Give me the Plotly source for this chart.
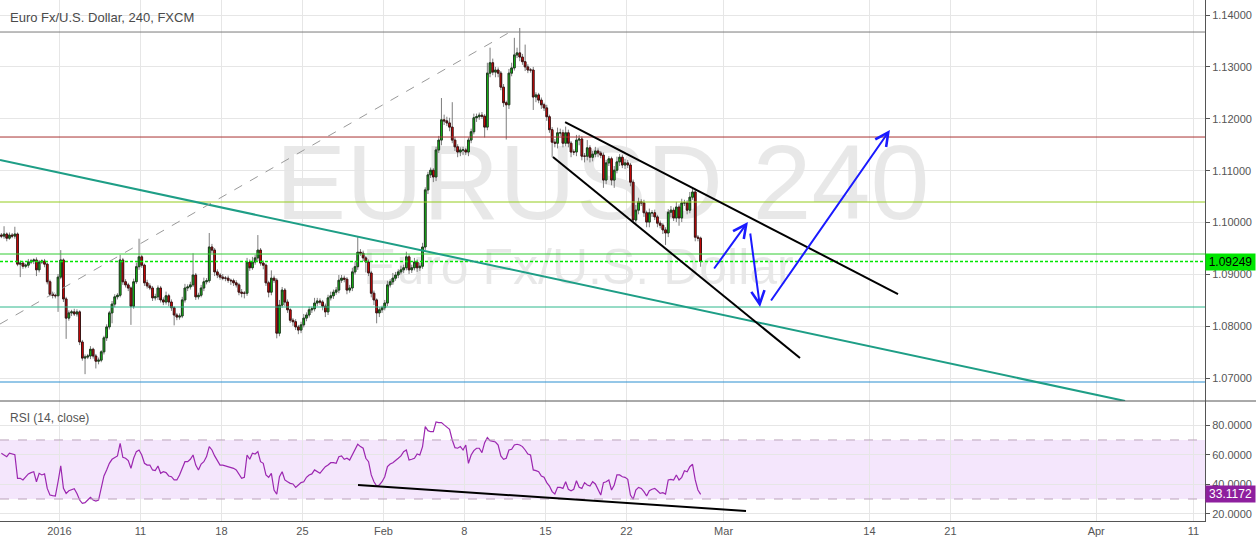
import plotly.graph_objects as go

# ---------------- data ----------------
closes = [
    1.0974, 1.0978, 1.0970, 1.0976, 1.0974, 1.0978, 1.0920, 1.0922, 1.0916, 1.0918,
    1.0924, 1.0926, 1.0928, 1.0909, 1.0924, 1.0926, 1.0920, 1.0886, 1.0862, 1.0860,
    1.0859, 1.0895, 1.0928, 1.0853, 1.0816, 1.0826, 1.0828, 1.0824, 1.0828, 1.0770,
    1.0739, 1.0741, 1.0743, 1.0756, 1.0743, 1.0733, 1.0735, 1.0751, 1.0778, 1.0799,
    1.0826, 1.0843, 1.0857, 1.0860, 1.0928, 1.0886, 1.0880, 1.0874, 1.0839, 1.0886,
    1.0915, 1.0934, 1.0918, 1.0884, 1.0878, 1.0874, 1.0855, 1.0857, 1.0874, 1.0851,
    1.0847, 1.0859, 1.0847, 1.0836, 1.0822, 1.0818, 1.0820, 1.0851, 1.0874, 1.0876,
    1.0880, 1.0899, 1.0857, 1.0860, 1.0874, 1.0886, 1.0888, 1.0953, 1.0947, 1.0905,
    1.0899, 1.0895, 1.0893, 1.0893, 1.0889, 1.0888, 1.0884, 1.0880, 1.0866, 1.0864,
    1.0864, 1.0924, 1.0913, 1.0924, 1.0932, 1.0947, 1.0922, 1.0918, 1.0884, 1.0866,
    1.0893, 1.0889, 1.0787, 1.0841, 1.0870, 1.0847, 1.0832, 1.0812, 1.0809, 1.0799,
    1.0793, 1.0803, 1.0816, 1.0822, 1.0832, 1.0834, 1.0845, 1.0849, 1.0847, 1.0839,
    1.0828, 1.0855, 1.0859, 1.0866, 1.0870, 1.0889, 1.0893, 1.0891, 1.0870, 1.0874,
    1.0905, 1.0915, 1.0943, 1.0941, 1.0932, 1.0924, 1.0903, 1.0864, 1.0851, 1.0826,
    1.0832, 1.0836, 1.0845, 1.0880, 1.0886, 1.0893, 1.0899, 1.0905, 1.0909, 1.0913,
    1.0934, 1.0909, 1.0913, 1.0924, 1.0913, 1.0916, 1.0953, 1.1063, 1.1092, 1.1101,
    1.1088, 1.1140, 1.1159, 1.1198, 1.1196, 1.1192, 1.1184, 1.1159, 1.1146, 1.1136,
    1.1140, 1.1140, 1.1136, 1.1159, 1.1175, 1.1202, 1.1204, 1.1207, 1.1205, 1.1184,
    1.1288, 1.1308, 1.1290, 1.1294, 1.1288, 1.1261, 1.1231, 1.1227, 1.1288, 1.1298,
    1.1323, 1.1327, 1.1319, 1.1310, 1.1300, 1.1294, 1.1294, 1.1242, 1.1246, 1.1236,
    1.1227, 1.1221, 1.1204, 1.1179, 1.1155, 1.1153, 1.1173, 1.1173, 1.1153, 1.1173,
    1.1153, 1.1136, 1.1136, 1.1159, 1.1161, 1.1128, 1.1128, 1.1144, 1.1126, 1.1132,
    1.1138, 1.1134, 1.1130, 1.1082, 1.1115, 1.1123, 1.1082, 1.1101, 1.1117, 1.1126,
    1.1111, 1.1115, 1.1111, 1.1078, 1.1005, 1.1024, 1.1040, 1.1038, 1.1019, 1.1001,
    1.1019, 1.1019, 1.1011, 1.0999, 1.0995, 1.0986, 1.0980, 1.1020, 1.1024, 1.1009,
    1.1030, 1.1009, 1.1038, 1.1038, 1.1024, 1.1049, 1.1059, 1.0972, 1.0970, 1.09249,
]
first_open = 1.0976

# wick lengths above / below the candle body, in pips
upper_wick_pips = [
    4, 15, 3, 5, 4, 14, 3, 5, 4, 3,
    6, 4, 3, 5, 4, 3, 4, 3, 4, 5,
    3, 6, 19, 3, 4, 5, 4, 6, 5, 3,
    4, 5, 4, 6, 3, 4, 5, 3, 4, 5,
    4, 6, 5, 4, 10, 4, 5, 4, 3, 6,
    8, 35, 4, 3, 6, 5, 4, 6, 5, 4,
    5, 8, 4, 5, 3, 4, 5, 6, 8, 5,
    6, 42, 4, 5, 6, 8, 5, 27, 6, 4,
    5, 4, 6, 4, 5, 3, 4, 5, 4, 6,
    4, 8, 5, 10, 6, 29, 4, 5, 3, 4,
    15, 5, 4, 10, 6, 4, 5, 3, 4, 5,
    4, 6, 8, 5, 6, 4, 10, 6, 5, 4,
    5, 6, 8, 5, 6, 10, 6, 5, 4, 6,
    8, 10, 29, 6, 5, 4, 5, 4, 5, 3,
    5, 4, 6, 8, 5, 10, 6, 5, 8, 6,
    10, 5, 6, 8, 5, 6, 8, 5, 6, 5,
    4, 6, 8, 42, 10, 8, 10, 48, 6, 5,
    5, 6, 4, 5, 6, 8, 6, 5, 6, 4,
    20, 29, 8, 6, 5, 4, 6, 4, 8, 10,
    33, 10, 48, 6, 33, 5, 4, 6, 5, 4,
    5, 4, 6, 4, 5, 6, 10, 8, 6, 12,
    6, 4, 5, 10, 8, 5, 6, 15, 5, 6,
    8, 5, 4, 5, 6, 5, 4, 8, 10, 6,
    5, 8, 6, 4, 5, 10, 8, 5, 6, 4,
    8, 5, 6, 4, 5, 4, 5, 6, 8, 5,
    10, 5, 8, 6, 5, 10, 8, 5, 4, 3,
]
lower_wick_pips = [
    4, 5, 6, 3, 4, 5, 4, 25, 5, 4,
    5, 4, 6, 12, 5, 4, 6, 5, 4, 6,
    5, 31, 4, 6, 40, 5, 6, 4, 5, 6,
    5, 31, 4, 6, 5, 14, 6, 4, 5, 6,
    5, 20, 6, 5, 4, 6, 5, 6, 36, 5,
    4, 6, 5, 6, 5, 4, 6, 5, 6, 5,
    6, 5, 8, 6, 20, 6, 5, 4, 5, 6,
    5, 4, 6, 5, 4, 6, 5, 4, 6, 8,
    6, 5, 4, 6, 5, 8, 6, 5, 6, 8,
    10, 5, 6, 4, 5, 6, 5, 8, 6, 10,
    6, 5, 10, 6, 5, 8, 6, 5, 8, 6,
    8, 6, 5, 6, 5, 6, 5, 6, 5, 8,
    10, 6, 5, 6, 5, 6, 5, 6, 8, 5,
    6, 5, 6, 5, 6, 20, 6, 8, 10, 20,
    8, 6, 5, 6, 5, 6, 5, 6, 5, 6,
    5, 8, 6, 5, 8, 6, 5, 6, 8, 6,
    10, 8, 6, 10, 8, 6, 8, 6, 8, 10,
    8, 10, 6, 8, 6, 5, 8, 6, 5, 20,
    6, 8, 6, 10, 8, 6, 8, 67, 8, 6,
    5, 6, 8, 6, 8, 6, 5, 25, 10, 6,
    8, 6, 8, 6, 29, 8, 10, 6, 8, 6,
    8, 10, 6, 8, 10, 8, 12, 8, 10, 8,
    6, 8, 6, 15, 8, 6, 10, 15, 6, 8,
    6, 8, 6, 8, 6, 10, 8, 6, 8, 10,
    10, 8, 6, 8, 6, 8, 23, 8, 10, 6,
    8, 15, 8, 6, 8, 6, 5, 8, 6, 10,
]

rsi_values = [
    61, 59.8, 58.7, 61, 60.3, 60, 44, 44, 42.9, 45,
    47, 47.9, 48.5, 41.7, 47.4, 46.3, 47, 37.2, 32.7, 32.3,
    32, 41.7, 52.4, 37.2, 33.8, 35.6, 36.1, 37, 33.8, 29.3,
    27, 27.5, 29.3, 31.1, 29.3, 28.6, 29.3, 37.2, 45.6, 49.7,
    54.2, 56.9, 58.2, 59.2, 67.7, 58.2, 57.6, 56, 50.8, 57.6,
    62.1, 63.2, 59.8, 54.2, 53, 53, 49.7, 49.2, 52.4, 47.4,
    48.5, 47.9, 45.6, 45.1, 42.9, 42.9, 46.3, 50.8, 55.3, 55.3,
    56.9, 59.8, 53, 49.7, 53.7, 55.3, 58.7, 65.5, 63.2, 59.2,
    56, 53, 53, 52.4, 51.9, 51.5, 50.8, 49.7, 47, 44,
    44.7, 59.8, 56.9, 61, 60.5, 62.1, 55.3, 54.2, 46.3, 44.7,
    47.4, 36.1, 33.2, 45.1, 48.5, 42.9, 41.7, 40.6, 40.2, 37.9,
    39.5, 41.1, 41.7, 44.7, 46.3, 47, 49.7, 48.5, 47.4, 49.7,
    51.9, 53, 54.6, 54.6, 54.2, 58.7, 59.2, 56.9, 57.6, 56.4,
    59.8, 63.2, 67.1, 65.5, 64.4, 57.6, 55.3, 46.3, 41.7, 38.8,
    39.5, 41.7, 45.1, 51.9, 53.7, 54.6, 56.4, 57.6, 59.2, 62.1,
    63.2, 56.4, 56.9, 57.6, 60.5, 59.8, 65.5, 79, 76.3, 75.6,
    75.6, 82.2, 81.8, 81.8, 80.2, 78.6, 77.2, 70, 64.8, 64.4,
    65.5, 63.2, 66.6, 54.2, 59.8, 62.8, 64.4, 64.4, 61.4, 68.2,
    71.6, 69.5, 68.9, 68.6, 66.6, 59.2, 56.9, 57.6, 63.2, 63.7,
    66.6, 67.1, 66.6, 65.5, 63.2, 60.5, 59.8, 49.7, 49.2, 48.5,
    45.6, 44.7, 41.1, 38.8, 35, 33.4, 37.9, 37.9, 37.2, 41.7,
    36.6, 35.6, 36.6, 42.4, 37.9, 37.2, 41.1, 39.5, 38.8, 41.7,
    40.2, 36.1, 32.7, 41.1, 41.7, 42.9, 36.1, 39.5, 46.3, 46.3,
    45.1, 44.7, 43.3, 32.7, 29.8, 36.1, 37.9, 37.2, 35, 32,
    35.6, 36.6, 37.2, 35.6, 33.8, 34.3, 33.4, 42.9, 43.3, 42.9,
    46.3, 42.9, 44.7, 49.2, 48.5, 51.9, 53.5, 42.9, 36.1, 33.1172,
]

tick_day_offsets = [0, 5, 10, 15, 20, 25, 30, 35, 41, 50, 55, 64, 70]
tick_labels = ["2016", "11", "18", "25", "Feb", "8", "15", "22", "Mar", "14", "21", "Apr", "11"]

level_prices = [1.13672, 1.11649, 1.10397, 1.09395, 1.08374, 1.06929]
level_colors = ["#7a7a7a", "#a83232", "#94cc1f", "#33cc33", "#2fb88c", "#2a8fd0"]
last_price = 1.09249
last_rsi = 33.1172
rsi_band = (30, 70)

# ---------------- derived ----------------
PIP = 0.0001
BARS_BEFORE_JAN4 = 22
BARS_PER_DAY = 6
n = len(closes)
xs = [i + 0.5 for i in range(n)]
opens = [first_open] + closes[:-1]
body_hi = [max(o, c) for o, c in zip(opens, closes)]
body_lo = [min(o, c) for o, c in zip(opens, closes)]
highs = [h + u * PIP for h, u in zip(body_hi, upper_wick_pips)]
lows = [l - d * PIP for l, d in zip(body_lo, lower_wick_pips)]
tickvals = [BARS_BEFORE_JAN4 + BARS_PER_DAY * d for d in tick_day_offsets]

# ---------------- geometry / style ----------------
W, H = 1256, 544
MR, MB = 51, 23
X_RANGE = [0, 446.3]
PRICE_RANGE = [1.06563, 1.14289]
RSI_RANGE = [15.1, 96.4]
SPLIT = 120 / 521
GRID = "#e6e6e6"
AXIS = "#555555"
FONT = "Liberation Sans"

fig = go.Figure()

# wicks (grey) underneath
fig.add_trace(go.Candlestick(
    x=xs, open=opens, high=highs, low=lows, close=closes,
    increasing=dict(line=dict(color="#7d7d7d", width=1), fillcolor="#7d7d7d"),
    decreasing=dict(line=dict(color="#7d7d7d", width=1), fillcolor="#7d7d7d"),
    whiskerwidth=0, showlegend=False, hoverinfo="skip",
))
# bodies
fig.add_trace(go.Candlestick(
    x=xs, open=opens, high=body_hi, low=body_lo, close=closes,
    increasing=dict(line=dict(color="#1f3a1f", width=1), fillcolor="#10e010"),
    decreasing=dict(line=dict(color="#3a1515", width=1), fillcolor="#ff0000"),
    whiskerwidth=0, showlegend=False, hoverinfo="skip",
))
# RSI
fig.add_trace(go.Scatter(
    x=xs, y=rsi_values, yaxis="y2", mode="lines",
    line=dict(color="#9c27b0", width=1.2), showlegend=False, hoverinfo="skip",
))

shapes = []
# watermark
shapes.append(dict(type="rect", xref="paper", yref="paper", x0=0.2, x1=0.8, y0=0.575, y1=0.765,
                   line=dict(width=0), fillcolor="rgba(0,0,0,0)", layer="between",
                   label=dict(text="EURUSD 240", textposition="middle center",
                              font=dict(family=FONT, size=106, color="rgba(0,0,0,0.09)"))))
shapes.append(dict(type="rect", xref="paper", yref="paper", x0=0.28, x1=0.68, y0=0.455, y1=0.54,
                   line=dict(width=0), fillcolor="rgba(0,0,0,0)", layer="between",
                   label=dict(text="Euro Fx/U.S. Dollar", textposition="middle center",
                              font=dict(family=FONT, size=50, color="rgba(0,0,0,0.09)"))))
# RSI band
shapes.append(dict(type="rect", xref="paper", yref="y2", x0=0, x1=1, y0=rsi_band[0], y1=rsi_band[1],
                   fillcolor="#f4e6fc", line=dict(width=0), layer="below"))
for lv in rsi_band:
    shapes.append(dict(type="line", xref="paper", yref="y2", x0=0, x1=1, y0=lv, y1=lv,
                       line=dict(color="#bba3bb", width=1, dash="dash")))
# horizontal levels
for p, c in zip(level_prices, level_colors):
    shapes.append(dict(type="line", xref="paper", yref="y", x0=0, x1=1, y0=p, y1=p,
                       line=dict(color=c, width=1)))
shapes.append(dict(type="line", xref="paper", yref="y", x0=0, x1=1, y0=last_price, y1=last_price,
                   line=dict(color="#00e600", width=1.5, dash="3px,2px")))
# trend drawings (bar-index, price)
shapes.append(dict(type="line", xref="x", yref="y", x0=0, y0=1.11206, x1=416.7, y1=1.06563,
                   line=dict(color="#1e9e86", width=2)))
shapes.append(dict(type="line", xref="x", yref="y", x0=0, y0=1.08046, x1=188.9, y1=1.13672,
                   line=dict(color="#9a9a9a", width=1, dash="dash")))
shapes.append(dict(type="line", xref="x", yref="y", x0=209.3, y0=1.11938, x1=332.6, y1=1.08624,
                   line=dict(color="#000000", width=2)))
shapes.append(dict(type="line", xref="x", yref="y", x0=204.8, y0=1.11264, x1=296.3, y1=1.07391,
                   line=dict(color="#000000", width=2)))
shapes.append(dict(type="line", xref="x", yref="y2", x0=132.6, y0=39.5, x1=276.3, y1=21.9,
                   line=dict(color="#000000", width=2)))
# pane separator
shapes.append(dict(type="line", xref="paper", yref="paper", x0=0, x1=W / (W - MR), y0=SPLIT, y1=SPLIT,
                   line=dict(color=AXIS, width=1)))

annotations = []
for (tx, ty), (hx, hy) in [((264.1, 1.09087), (277.0, 1.10012)),
                           ((277.8, 1.09819), (281.5, 1.08374)),
                           ((285.2, 1.08470), (329.6, 1.11784))]:
    annotations.append(dict(x=hx, y=hy, xref="x", yref="y", ax=tx, ay=ty, axref="x", ayref="y",
                            text="", showarrow=True, arrowhead=5, arrowsize=1.3, arrowwidth=2,
                            arrowcolor="#1a1aff", standoff=0))
annotations.append(dict(x=8 / (W - MR), y=(521 - 18) / 521, xref="paper", yref="paper",
                        text="Euro Fx/U.S. Dollar, 240, FXCM", showarrow=False,
                        xanchor="left", yanchor="middle",
                        font=dict(family=FONT, size=13, color="#4a4a4a")))
annotations.append(dict(x=8 / (W - MR), y=(521 - 418) / 521, xref="paper", yref="paper",
                        text="RSI (14, close)", showarrow=False, xanchor="left", yanchor="middle",
                        font=dict(family=FONT, size=12, color="#555555")))
annotations.append(dict(x=1, y=last_price, xref="paper", yref="y", text=f"{last_price:.5f}",
                        showarrow=False, xanchor="left", yanchor="middle", width=47, align="center",
                        bgcolor="#00e600", borderpad=1,
                        font=dict(family=FONT, size=12, color="#000000")))
annotations.append(dict(x=1, y=last_rsi, xref="paper", yref="y2", text=f"{last_rsi:.4f}",
                        showarrow=False, xanchor="left", yanchor="middle", width=47, align="center",
                        bgcolor="#8e1f9e", borderpad=1,
                        font=dict(family=FONT, size=12, color="#ffffff")))

fig.update_layout(
    width=W, height=H, margin=dict(l=0, r=MR, t=0, b=MB),
    paper_bgcolor="white", plot_bgcolor="white", showlegend=False, hovermode=False,
    font=dict(family=FONT, size=11, color=AXIS),
    boxgap=0.12,
    xaxis=dict(domain=[0, 1], range=X_RANGE, anchor="y2", tickvals=tickvals, ticktext=tick_labels,
               showgrid=True, gridcolor=GRID, gridwidth=1, zeroline=False, showline=True,
               linecolor=AXIS, ticks="", tickfont=dict(size=11, color=AXIS),
               rangeslider=dict(visible=False), fixedrange=True),
    yaxis=dict(domain=[SPLIT, 1], range=PRICE_RANGE, side="right", anchor="x",
               tickvals=[1.07, 1.08, 1.09, 1.10, 1.11, 1.12, 1.13, 1.14], tickformat=".5f",
               showgrid=True, gridcolor=GRID, zeroline=False, showline=True, linecolor=AXIS,
               ticks="outside", ticklen=4, tickcolor=AXIS, tickfont=dict(size=11, color=AXIS)),
    yaxis2=dict(domain=[0, SPLIT], range=RSI_RANGE, side="right", anchor="x",
                tickvals=[20, 40, 60, 80], tickformat=".4f",
                showgrid=True, gridcolor=GRID, zeroline=False, showline=True, linecolor=AXIS,
                ticks="outside", ticklen=4, tickcolor=AXIS, tickfont=dict(size=11, color=AXIS)),
    shapes=shapes, annotations=annotations,
)

fig.write_html(
    "out.html",
    config={"displayModeBar": False, "staticPlot": True},
    post_script="document.body.style.margin='0px';document.body.style.overflow='hidden';",
)
